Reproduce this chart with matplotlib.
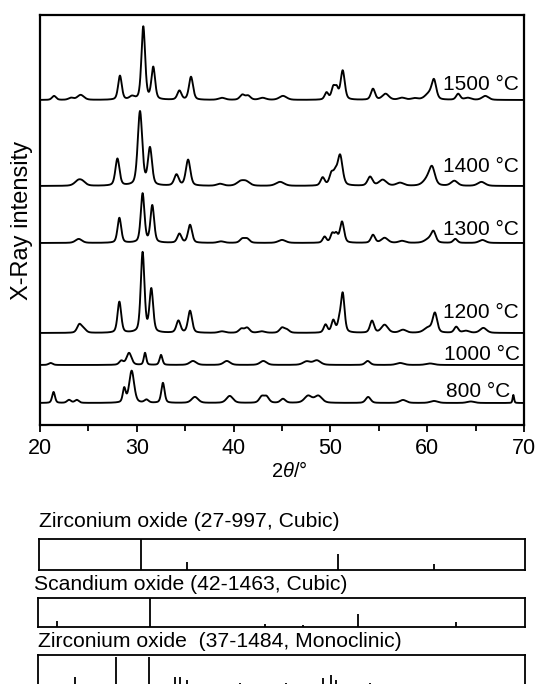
import numpy as np
import matplotlib
matplotlib.use("Agg")
import matplotlib.pyplot as plt

plt.rcParams['font.family'] = ['Liberation Sans', 'DejaVu Sans']
plt.rcParams['mathtext.fontset'] = 'custom'
plt.rcParams['mathtext.it'] = 'Liberation Sans:italic'
plt.rcParams['mathtext.rm'] = 'Liberation Sans'

# peak tables: position (2theta), height, fwhm
pos_1500 = [21.45, 23.2, 24.2, 28.26, 29.5, 30.67, 31.7, 34.4, 35.6, 38.8, 40.9, 41.5, 43.0, 45.1,
            49.6, 50.3, 50.65, 51.27, 54.4, 55.7, 57.4, 58.7, 60.2, 60.7, 63.2, 64.2, 66.0]
hgt_1500 = [4, 2, 5, 24, 3, 73, 32, 9, 23, 2, 5, 4, 2, 4,
            7, 12, 10, 29, 11, 6, 2, 1.5, 6, 18, 6, 2, 4]
wid_1500 = [0.5, 0.6, 0.8, 0.45, 0.6, 0.45, 0.45, 0.5, 0.5, 0.8, 0.6, 0.6, 0.8, 0.9,
            0.45, 0.45, 0.4, 0.5, 0.5, 0.8, 0.8, 0.8, 1.0, 0.55, 0.5, 0.8, 0.8]

pos_1400 = [23.96, 24.4, 28.0, 30.33, 31.36, 34.1, 35.3, 38.6, 40.7, 41.3, 44.8, 49.2, 50.1, 50.5,
            51.0, 54.1, 55.4, 57.2, 60.0, 60.5, 62.8, 65.6]
hgt_1400 = [5, 3, 27, 74, 37, 11, 26, 2, 4, 4, 4, 8, 11, 10,
            30, 9, 6, 3, 6, 17, 5, 4]
wid_1400 = [0.9, 0.8, 0.5, 0.55, 0.5, 0.55, 0.55, 0.8, 0.9, 0.9, 1.0, 0.5, 0.5, 0.5,
            0.6, 0.6, 0.9, 0.9, 1.0, 0.7, 0.8, 0.9]

pos_1300 = [24.0, 28.2, 30.6, 31.6, 34.4, 35.5, 38.7, 40.9, 41.4, 45.0, 49.4, 50.2, 50.6, 51.2,
            54.4, 55.6, 57.4, 60.2, 60.65, 62.9, 65.7]
hgt_1300 = [4, 25, 49, 37, 9, 18, 1.5, 4, 4, 3, 6, 9, 8, 21,
            8, 5, 2, 4, 10, 4, 3]
wid_1300 = [0.8, 0.45, 0.45, 0.45, 0.5, 0.5, 0.8, 0.6, 0.6, 0.9, 0.45, 0.45, 0.4, 0.5,
            0.5, 0.8, 0.8, 1.0, 0.55, 0.5, 0.8]

pos_1200 = [24.06, 24.5, 28.2, 30.6, 31.5, 34.3, 35.5, 38.8, 40.8, 41.4, 42.9, 45.0, 45.5, 49.5,
            50.3, 50.9, 51.27, 54.3, 55.6, 57.5, 60.1, 60.8, 63.0, 64.0, 65.8]
hgt_1200 = [8, 4, 31, 80, 43, 12, 22, 1.5, 4, 5, 1.5, 5, 3, 8,
            12, 9, 39, 12, 8, 3, 5, 19, 6, 2, 5]
wid_1200 = [0.55, 0.6, 0.45, 0.45, 0.45, 0.5, 0.5, 0.8, 0.6, 0.6, 0.8, 0.6, 0.6, 0.45,
            0.45, 0.4, 0.45, 0.5, 0.8, 0.8, 1.0, 0.55, 0.5, 0.8, 0.8]

pos_1000 = [21.1, 28.4, 29.2, 30.85, 32.5, 35.8, 39.3, 43.07, 47.55, 48.6, 53.85, 57.2, 60.3]
hgt_1000 = [2, 4, 12, 12, 10, 4, 4, 4, 3.5, 4.5, 4, 2, 1.5]
wid_1000 = [0.5, 0.5, 0.6, 0.3, 0.35, 0.8, 0.8, 0.8, 0.9, 0.9, 0.6, 0.9, 1.0]

pos_800 = [21.4, 23.0, 23.8, 28.7, 29.47, 31.0, 32.7, 36.0, 39.6, 42.9, 43.4, 45.1, 47.7, 48.75,
           53.9, 57.5, 60.7, 64.5, 68.9]
hgt_800 = [11, 3, 3, 14, 32, 3, 20, 6, 7, 6, 6, 4, 7, 7,
           6, 3, 2, 1.5, 8]
wid_800 = [0.35, 0.5, 0.5, 0.35, 0.6, 0.5, 0.4, 0.8, 0.8, 0.6, 0.6, 0.6, 0.9, 0.9,
           0.6, 0.8, 0.9, 0.9, 0.18]

temps = ['1500 °C', '1400 °C', '1300 °C', '1200 °C', '1000 °C', '800 °C']
offsets = [325, 239, 182, 92, 60, 22]

# reference cards: line positions and relative heights
card_titles = ['Zirconium oxide (27-997, Cubic)',
               'Scandium oxide (42-1463, Cubic)',
               'Zirconium oxide  (37-1484, Monoclinic)']
card_pos = [[30.5, 35.2, 50.8, 60.6],
            [21.9, 31.45, 43.3, 47.2, 52.9, 62.9],
            [23.8, 28.05, 31.4, 34.1, 34.6, 35.3, 40.7, 45.5, 49.3, 50.1, 50.6, 54.1]]
card_hgt = [[1.0, 0.25, 0.53, 0.19],
            [0.2, 1.0, 0.1, 0.08, 0.44, 0.17],
            [0.3, 0.92, 0.92, 0.3, 0.3, 0.2, 0.1, 0.1, 0.25, 0.35, 0.2, 0.1]]


def pattern(x, pos, hgt, wid):
    y = np.zeros_like(x)
    for p, h, w in zip(pos, hgt, wid):
        g = np.exp(-4 * np.log(2) * ((x - p) / w) ** 2)
        l = 1 / (1 + 4 * ((x - p) / w) ** 2)
        y += h * (0.6 * g + 0.4 * l)
    return y


W, H = 541, 684
fig = plt.figure(figsize=(W / 100, H / 100), dpi=100)

def px_axes(x0, y0, x1, y1):
    return fig.add_axes([x0 / W, 1 - y1 / H, (x1 - x0) / W, (y1 - y0) / H])

ax = px_axes(40, 15, 524, 425)
x = np.linspace(20, 70, 2501)
curves = [(pos_1500, hgt_1500, wid_1500), (pos_1400, hgt_1400, wid_1400),
          (pos_1300, hgt_1300, wid_1300), (pos_1200, hgt_1200, wid_1200),
          (pos_1000, hgt_1000, wid_1000), (pos_800, hgt_800, wid_800)]
for (p, h, w), off in zip(curves, offsets):
    ax.plot(x, off + pattern(x, p, h, w), color='black', lw=1.35)

# temperature labels
lab_x = [69.5, 69.5, 69.5, 69.5, 69.55, 68.6]
lab_dy = [10, 14, 8, 15, 5, 6]
for t, off, lx, dy in zip(temps, offsets, lab_x, lab_dy):
    ax.text(lx, off + dy, t, ha='right', va='baseline', fontsize=15)

ax.set_xlim(20, 70)
ax.set_ylim(0, 410)
ax.set_yticks([])
ax.set_xticks([20, 30, 40, 50, 60, 70])
ax.set_xticks([25, 35, 45, 55, 65], minor=True)
ax.tick_params(axis='x', which='major', length=5, width=1.3, labelsize=15.5, pad=4)
ax.tick_params(axis='x', which='minor', length=4, width=1.3)
for s in ax.spines.values():
    s.set_linewidth(1.6)
ax.set_xlabel(r'2$\it{\theta}$/°', fontsize=14.5, labelpad=2)
ax.xaxis.label.set_x(0.515)
ax.set_ylabel('X-Ray intensity', fontsize=17, labelpad=5)

# reference card boxes
boxes = [(39, 539, 525, 570), (38, 598, 525, 627), (38, 655, 525, 686)]
title_dx = [0, -4, 0]
title_dy = [8, 4, 4]
for (x0, y0, x1, y1), ttl, cp, ch, dx, dy in zip(boxes, card_titles, card_pos, card_hgt, title_dx, title_dy):
    bx = px_axes(x0, y0, x1, y1)
    bx.vlines(cp, 0, ch, color='black', lw=1.3)
    bx.set_xlim(20, 70)
    bx.set_ylim(0, 1)
    bx.set_xticks([])
    bx.set_yticks([])
    for s in bx.spines.values():
        s.set_linewidth(1.3)
    bx.annotate(ttl, xy=(0, 1), xycoords='axes fraction', xytext=(dx * 0.72, dy * 0.72),
                textcoords='offset points', ha='left', va='bottom', fontsize=15.2)

fig.savefig('out.png', dpi=100)
